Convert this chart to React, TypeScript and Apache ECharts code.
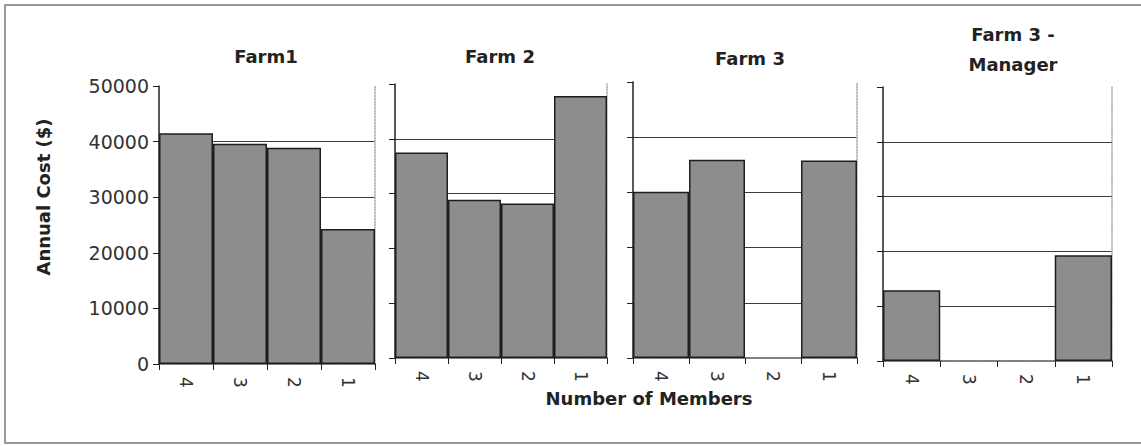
import React, { useEffect, useRef } from "react";
import * as echarts from "echarts";

const categories = ["4", "3", "2", "1"];
const panelTitles = ["Farm1", "Farm 2", "Farm 3", "Farm 3 -\nManager"];
const farm1 = [41500, 39600, 38900, 24300];
const farm2 = [37500, 28900, 28200, 47800];
const farm3 = [30100, 35900, 0, 35800];
const farm3Manager = [12900, 0, 0, 19300];
const seriesValues = [farm1, farm2, farm3, farm3Manager];
const yMax = 50000;
const yInterval = 10000;

const FONT = "DejaVu Sans";

const grids = [
  { left: 159, top: 86, width: 216, height: 278 },
  { left: 395, top: 84, width: 212, height: 274 },
  { left: 633, top: 82, width: 224, height: 276 },
  { left: 883, top: 87, width: 229, height: 274 },
];
const titlePos = [
  { x: 261, y: 36 },
  { x: 495, y: 36 },
  { x: 745, y: 38 },
  { x: 1008, y: 14 },
];

export default function App() {
  const ref = useRef<HTMLDivElement>(null);
  useEffect(() => {
    if (!ref.current) return;
    const chart = echarts.init(ref.current, undefined, { renderer: "svg" });
    const xAxis: any[] = [];
    const yAxis: any[] = [];
    const series: any[] = [];
    grids.forEach((g, i) => {
      xAxis.push({
        type: "category",
        gridIndex: i,
        data: categories,
        position: "bottom",
        axisLine: { show: true, lineStyle: { color: "#222", width: 1.5 } },
        axisTick: { show: true, interval: 0, length: 6, lineStyle: { color: "#222" } },
        axisLabel: {
          rotate: -90,
          interval: 0,
          fontFamily: FONT,
          fontSize: 17,
          color: "#333",
          margin: 13,
        },
        splitLine: { show: false },
      });
      xAxis.push({
        type: "category",
        gridIndex: i,
        data: categories,
        position: "top",
        axisLine: { show: true, lineStyle: { color: "#999", width: 1.5, type: "dotted" } },
        axisTick: { show: false },
        axisLabel: { show: false },
        splitLine: { show: false },
      });
      yAxis.push({
        type: "value",
        gridIndex: i,
        min: 0,
        max: yMax,
        interval: yInterval,
        position: "left",
        axisLine: { show: true, lineStyle: { color: "#222", width: 1.5 } },
        axisTick: { show: true, length: 6, lineStyle: { color: "#222" } },
        axisLabel: {
          show: i === 0,
          fontFamily: FONT,
          fontSize: 19,
          color: "#333",
          margin: 10,
          formatter: (v: number) => String(v),
        },
        splitLine: {
          show: true,
          showMinLine: false,
          showMaxLine: false,
          lineStyle: { color: "#3a3a3a", width: 1 },
        },
      });
      yAxis.push({
        type: "value",
        gridIndex: i,
        min: 0,
        max: yMax,
        interval: yInterval,
        position: "right",
        axisLine: { show: true, lineStyle: { color: "#aaa", width: 1.5, type: "dotted" } },
        axisTick: { show: false },
        axisLabel: { show: false },
        splitLine: { show: false },
      });
      series.push({
        type: "bar",
        xAxisIndex: i * 2,
        yAxisIndex: i * 2,
        data: seriesValues[i].map((v) =>
          v === 0 ? { value: v, itemStyle: { borderWidth: 0, opacity: 0 } } : v
        ),
        barCategoryGap: "0%",
        itemStyle: { color: "#8d8d8d", borderColor: "#1e1e1e", borderWidth: 1.5 },
        z: 3,
      });
    });

    chart.setOption({
      animation: false,
      backgroundColor: "#fff",
      grid: grids.map((g) => ({ ...g, containLabel: false })),
      title: panelTitles.map((t, i) => ({
        text: t,
        left: titlePos[i].x,
        top: titlePos[i].y,
        textAlign: "center",
        textStyle: {
          fontFamily: FONT,
          fontWeight: "bold",
          fontSize: 18,
          color: "#222",
          lineHeight: 30,
        },
      })),
      xAxis,
      yAxis,
      series,
      graphic: [
        {
          type: "rect",
          shape: { x: 5, y: 5, width: 1140, height: 438 },
          style: { fill: "none", stroke: "#777", lineWidth: 1.5 },
          silent: true,
        },
        {
          type: "text",
          x: 43,
          y: 197,
          rotation: Math.PI / 2,
          style: {
            text: "Annual Cost ($)",
            fontFamily: FONT,
            fontWeight: "bold",
            fontSize: 18,
            fill: "#222",
            align: "center",
            verticalAlign: "middle",
          },
        },
        {
          type: "text",
          x: 649,
          y: 398,
          style: {
            text: "Number of Members",
            fontFamily: FONT,
            fontWeight: "bold",
            fontSize: 18,
            fill: "#222",
            align: "center",
            verticalAlign: "middle",
          },
        },
      ],
    });
    return () => chart.dispose();
  }, []);
  return (
    <div
      ref={ref}
      style={{ position: "fixed", left: 0, top: 0, width: 1141, height: 446, background: "#fff" }}
    />
  );
}
